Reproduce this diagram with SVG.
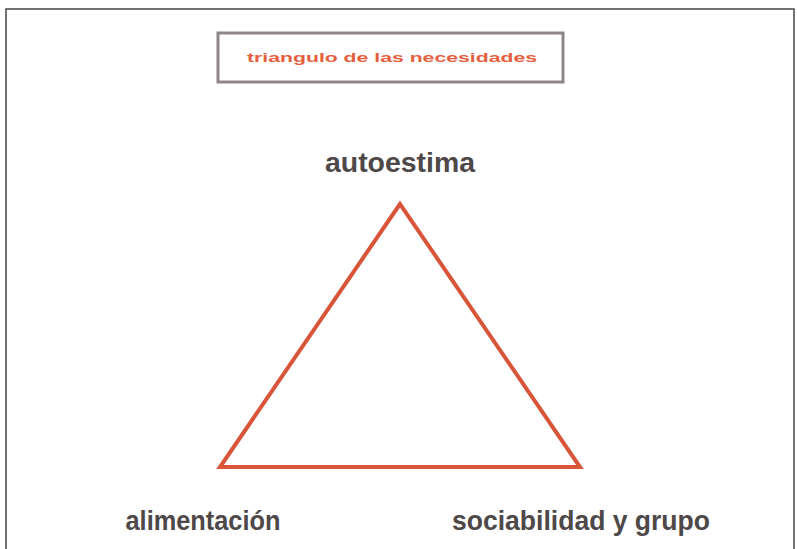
<svg xmlns="http://www.w3.org/2000/svg" width="797" height="549" viewBox="0 0 797 549">
<style>
.lbl{font-family:"Liberation Sans",Arial,sans-serif;font-weight:bold;font-size:27px;fill:#4e4848;text-anchor:middle}
.title{font-family:"Liberation Sans",Arial,sans-serif;font-size:13px;fill:#e5603e;text-anchor:middle;font-weight:bold}
</style>
<rect x="0" y="0" width="797" height="549" fill="#ffffff"/>
<rect x="6" y="9" width="788" height="545" fill="none" stroke="#444" stroke-width="1.5"/>
<g id="title">
<rect x="218" y="33" width="345" height="49" fill="#fff" stroke="#8e8686" stroke-width="3"/>
<text class="title" x="392" y="62" textLength="290" lengthAdjust="spacingAndGlyphs">triangulo de las necesidades</text>
</g>
<g id="connectors">
<polygon points="400,204 220,467 580,467" fill="none" stroke="#d9553a" stroke-width="4" stroke-linejoin="miter"/>
</g>
<g id="top">
<text class="lbl" x="400" y="172" textLength="150" lengthAdjust="spacingAndGlyphs">autoestima</text>
</g>
<g id="left">
<text class="lbl" x="203" y="530" textLength="155" lengthAdjust="spacingAndGlyphs">alimentación</text>
</g>
<g id="right">
<text class="lbl" x="581" y="530" textLength="258" lengthAdjust="spacingAndGlyphs">sociabilidad y grupo</text>
</g>
</svg>
